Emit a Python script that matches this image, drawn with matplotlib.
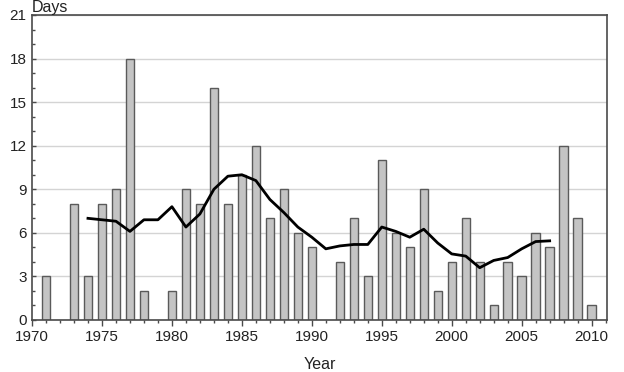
import matplotlib
matplotlib.use('Agg')
import matplotlib.pyplot as plt
from matplotlib.ticker import MultipleLocator

plt.rcParams['font.family'] = ['Liberation Sans', 'DejaVu Sans']

# Dados
anos = list(range(1971, 2011))
dias = [3, 0, 8, 3, 8, 9, 18, 2, 0, 2,
        9, 8, 16, 8, 10, 12, 7, 9, 6, 5,
        0, 4, 7, 3, 11, 6, 5, 9, 2, 4,
        7, 4, 1, 4, 3, 6, 5, 12, 7, 1]

anos_media = list(range(1974, 2008))
media_movel = [7.0, 6.9, 6.8, 6.1, 6.9, 6.9, 7.8, 6.4, 7.3, 9.0,
               9.9, 10.0, 9.6, 8.3, 7.4, 6.4, 5.7, 4.9, 5.1, 5.2,
               5.2, 6.4, 6.1, 5.7, 6.25, 5.3, 4.55, 4.4, 3.6, 4.1,
               4.3, 4.9, 5.4, 5.45]

fig = plt.figure(figsize=(6.24, 3.72), dpi=100)
ax = fig.add_axes([0.0513, 0.1398, 0.9215, 0.8199])

# Barras (excluir anos com zero)
anos_b = [a for a, d in zip(anos, dias) if d > 0]
dias_b = [d for d in dias if d > 0]
ax.bar(anos_b, dias_b, width=0.6, color='#c4c4c4', edgecolor='#5a5a5a',
       linewidth=1.0, zorder=2)

# Média móvel
ax.plot(anos_media, media_movel, color='black', linewidth=2.0, zorder=3)

ax.set_xlim(1970, 2011.1)
ax.set_ylim(0, 21)
ax.xaxis.set_major_locator(MultipleLocator(5))
ax.xaxis.set_minor_locator(MultipleLocator(1))
ax.yaxis.set_major_locator(MultipleLocator(3))
ax.yaxis.set_minor_locator(MultipleLocator(1))

ax.grid(axis='y', which='major', color='#d4d4d4', linewidth=1.0, zorder=0)
ax.set_axisbelow(True)

for s in ax.spines.values():
    s.set_color('#4a4a4a')
    s.set_linewidth(1.2)

ax.tick_params(axis='x', which='major', direction='out', length=4, width=1,
               color='#4a4a4a', labelsize=11, pad=3, labelcolor='#222222')
ax.tick_params(axis='x', which='minor', direction='out', length=2, width=1,
               color='#4a4a4a')
ax.tick_params(axis='y', which='major', direction='in', length=3, width=1,
               color='#4a4a4a', labelsize=11, pad=4, labelcolor='#222222')
ax.tick_params(axis='y', which='minor', direction='in', length=2, width=1,
               color='#4a4a4a')

# Rótulos dos eixos (junto às bordas, como no original)
fig.text(0.0513, 0.999, 'Days', fontsize=11.5, color='#222222',
         ha='left', va='top')
fig.text(0.512, 0.001, 'Year', fontsize=11.5, color='#222222',
         ha='center', va='bottom')

plt.savefig('out.png', dpi=100)
